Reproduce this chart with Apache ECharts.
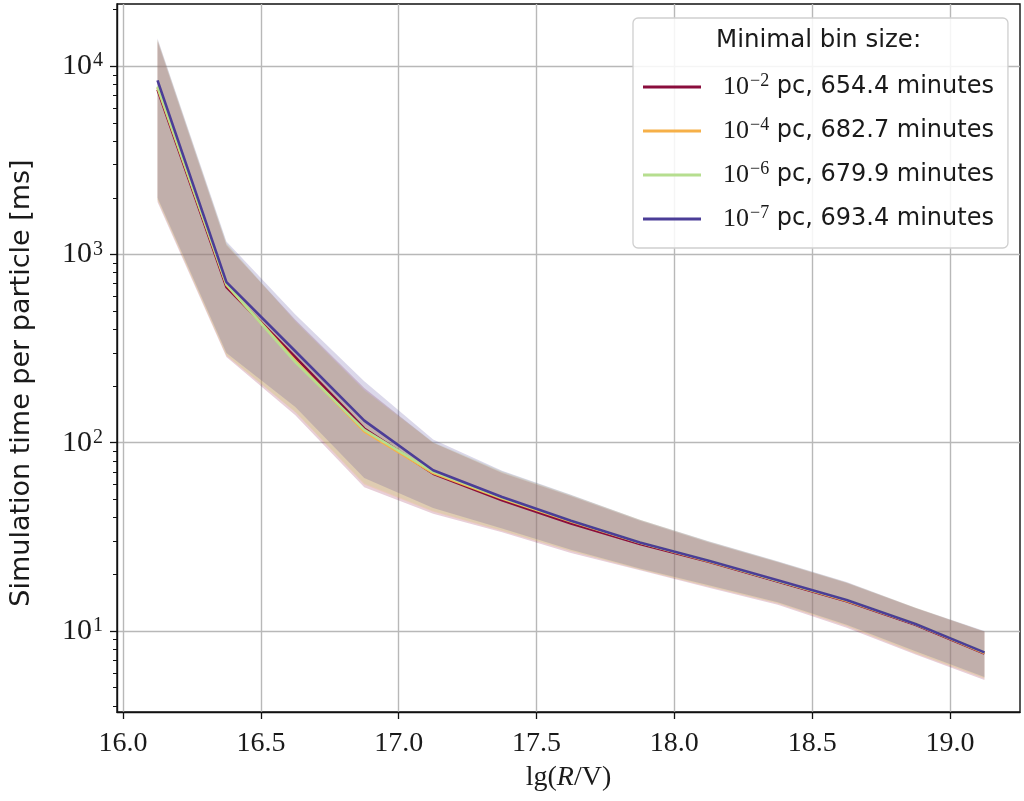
<!DOCTYPE html>
<html>
<head>
<meta charset="utf-8">
<script src="https://cdn.jsdelivr.net/npm/echarts/dist/echarts.min.js"></script>
<style>
  html, body { margin: 0; padding: 0; background: #fff; }
  #chart { width: 1024px; height: 801px; }
</style>
</head>
<body>
<div id="chart"></div>
<script>
// ---- data ----
const xValues = [16.125, 16.375, 16.625, 16.875, 17.125, 17.375, 17.625, 17.875, 18.125, 18.375, 18.625, 18.875, 19.125];

const seriesKeys = ['p2', 'p4', 'p6', 'p7'];
const legendExponents = ['\u22122', '\u22124', '\u22126', '\u22127'];
const legendMinutes = ['654.4', '682.7', '679.9', '693.4'];
const seriesColors = ['#8a0d3c', '#f6b048', '#b6de8f', '#4b3d97'];

// mean simulation time per particle [ms]
const meanP2 = [7500, 671, 285, 119, 68.5, 49.5, 37.2, 29.0, 23.3, 18.3, 14.4, 10.8, 7.6];
const meanP4 = [7700, 690, 272, 115, 69.0, 50.5, 38.2, 29.4, 23.5, 18.5, 14.5, 10.9, 7.65];
const meanP6 = [7800, 695, 268, 117, 70.0, 51.0, 38.5, 29.5, 23.6, 18.5, 14.6, 10.9, 7.7];
const meanP7 = [8400, 713, 306, 131, 71.4, 51.5, 38.5, 29.5, 23.6, 18.6, 14.6, 10.9, 7.7];

// band upper / lower limits [ms]
const upperP2 = [13500, 1120, 450, 195, 100, 69, 52, 38.5, 29.5, 23.2, 18.0, 13.2, 9.9];
const lowerP2 = [1900, 285, 140, 58, 42, 33.5, 26, 21, 17, 13.8, 10.4, 7.5, 5.5];
const upperP4 = [13800, 1140, 440, 190, 100, 70, 52.5, 39, 29.8, 23.3, 18.1, 13.3, 9.95];
const lowerP4 = [1950, 290, 145, 60, 43, 34, 26.5, 21.2, 17.2, 14.0, 10.6, 7.6, 5.6];
const upperP6 = [13800, 1150, 445, 192, 101, 70.5, 52.8, 39, 29.9, 23.4, 18.1, 13.3, 9.95];
const lowerP6 = [1950, 292, 146, 61, 43.5, 34.3, 26.7, 21.3, 17.3, 14.1, 10.7, 7.7, 5.65];
const upperP7 = [14000, 1170, 480, 212, 104, 71, 53, 39, 30, 23.5, 18.2, 13.3, 10.0];
const lowerP7 = [2000, 300, 155, 65, 45, 35, 27, 21.5, 17.5, 14.2, 10.8, 7.8, 5.7];

const xTicks = [16.0, 16.5, 17.0, 17.5, 18.0, 18.5, 19.0];
const yTickExponents = [1, 2, 3, 4];

const means = [meanP2, meanP4, meanP6, meanP7];
const uppers = [upperP2, upperP4, upperP6, upperP7];
const lowers = [lowerP2, lowerP4, lowerP6, lowerP7];

// ---- build options ----
const lg = v => Math.log10(v);
const yMin = 0.57, yMax = 4.33;
const minorTicks = [];
for (let d = 0; d <= 4; d++) {
  for (let k = 2; k <= 9; k++) {
    const v = lg(k * Math.pow(10, d));
    if (v > yMin && v < yMax) minorTicks.push(v);
  }
}

function hexA(hex, a) {
  const r = parseInt(hex.slice(1, 3), 16), g = parseInt(hex.slice(3, 5), 16), b = parseInt(hex.slice(5, 7), 16);
  return 'rgba(' + r + ',' + g + ',' + b + ',' + a + ')';
}

function bandRenderer(i) {
  return function (params, api) {
    if (params.dataIndex !== 0) return null;
    const pts = [];
    for (let j = 0; j < xValues.length; j++) pts.push(api.coord([xValues[j], lg(uppers[i][j])]));
    for (let j = xValues.length - 1; j >= 0; j--) pts.push(api.coord([xValues[j], lg(lowers[i][j])]));
    return {
      type: 'polygon', silent: true,
      shape: { points: pts },
      style: { fill: hexA(seriesColors[i], 0.2), stroke: null }
    };
  };
}

const series = [];
seriesKeys.forEach((key, i) => {
  series.push({
    name: key + '_band', type: 'custom', silent: true, z: 1,
    renderItem: bandRenderer(i),
    encode: { x: 0, y: [1, 2] },
    data: xValues.map((x, j) => [x, lg(lowers[i][j]), lg(uppers[i][j])])
  });
});
seriesKeys.forEach((key, i) => {
  series.push({
    name: key, type: 'line', symbol: 'none',
    color: seriesColors[i],
    lineStyle: { color: seriesColors[i], width: 2.6 },
    data: xValues.map((x, j) => [x, lg(means[i][j])]),
    z: 3
  });
});

const legendRich = {
  n: { fontFamily: 'Liberation Serif', fontSize: 26, color: '#1a1a1a', lineHeight: 30, padding: [0, 0, 0, 17] },
  s: { fontFamily: 'Liberation Serif', fontSize: 18, color: '#1a1a1a', verticalAlign: 'top', lineHeight: 30, padding: [0, 0, 10, 1] },
  t: { fontFamily: 'DejaVu Sans', fontSize: 24, color: '#1a1a1a', lineHeight: 30 }
};

const option = {
  animation: false,
  backgroundColor: '#ffffff',
  title: {
    text: 'Minimal bin size:',
    left: 716, top: 28, padding: 0, z: 10,
    textStyle: { fontFamily: 'DejaVu Sans', fontSize: 24.5, fontWeight: 'normal', color: '#1a1a1a' }
  },
  legend: {
    data: seriesKeys,
    orient: 'vertical',
    left: 633, top: 18,
    padding: [54, 14, 14, 10],
    itemWidth: 58, itemHeight: 3, itemGap: 14,
    icon: 'rect',
    backgroundColor: 'rgba(255,255,255,0.85)',
    borderColor: '#cfcfcf', borderWidth: 1.3, borderRadius: 5,
    formatter: name => {
      const i = seriesKeys.indexOf(name);
      return '{n|10}{s|' + legendExponents[i] + '}{t| pc, ' + legendMinutes[i] + ' minutes}';
    },
    textStyle: { rich: legendRich, lineHeight: 30 }
  },
  grid: {
    left: 114, top: 4, width: 906, height: 708,
    show: true, borderColor: '#111', borderWidth: 1.4, backgroundColor: 'transparent'
  },
  xAxis: {
    type: 'value', min: 15.978, max: 19.254,
    name: 'lg({i|R}/V)', nameLocation: 'middle', nameGap: 52,
    nameTextStyle: {
      fontFamily: 'Liberation Serif', fontSize: 28, color: '#1a1a1a',
      rich: { i: { fontFamily: 'Liberation Serif', fontStyle: 'italic', fontSize: 28, color: '#1a1a1a' } }
    },
    axisLine: { show: true, lineStyle: { color: '#111', width: 1.4 } },
    axisTick: { show: true, inside: false, length: 7, lineStyle: { color: '#111', width: 1.3 }, customValues: xTicks },
    axisLabel: {
      customValues: xTicks, margin: 18,
      fontFamily: 'Liberation Serif', fontSize: 28, color: '#1a1a1a',
      formatter: v => v.toFixed(1)
    },
    splitLine: { show: true, lineStyle: { color: '#b8b8b8', width: 1.4 } }
  },
  yAxis: [
    {
      type: 'value', min: yMin, max: yMax,
      name: 'Simulation time per particle [ms]', nameLocation: 'middle', nameGap: 82,
      nameTextStyle: { fontFamily: 'DejaVu Sans', fontSize: 27, color: '#1a1a1a', padding: [0, 50, 0, 0] },
      axisLine: { show: true, lineStyle: { color: '#111', width: 1.4 } },
      axisTick: { show: true, inside: false, length: 7, lineStyle: { color: '#111', width: 1.3 }, customValues: yTickExponents },
      axisLabel: {
        customValues: yTickExponents, margin: 14,
        formatter: v => '{b|10}{e|' + Math.round(v) + '}',
        rich: {
          b: { fontFamily: 'Liberation Serif', fontSize: 30, color: '#1a1a1a', lineHeight: 30 },
          e: { fontFamily: 'Liberation Serif', fontSize: 20, color: '#1a1a1a', verticalAlign: 'top', lineHeight: 30, padding: [0, 0, 14, 1] }
        }
      },
      splitLine: { show: true, lineStyle: { color: '#b8b8b8', width: 1.4 } }
    },
    {
      type: 'value', min: yMin, max: yMax, position: 'left',
      axisLine: { show: false },
      axisTick: { show: true, inside: false, length: 4, lineStyle: { color: '#111', width: 1 }, customValues: minorTicks },
      axisLabel: { show: false },
      splitLine: { show: false }
    }
  ],
  series: series
};

const chart = echarts.init(document.getElementById('chart'), null, { renderer: 'canvas' });
chart.setOption(option);
</script>
</body>
</html>
